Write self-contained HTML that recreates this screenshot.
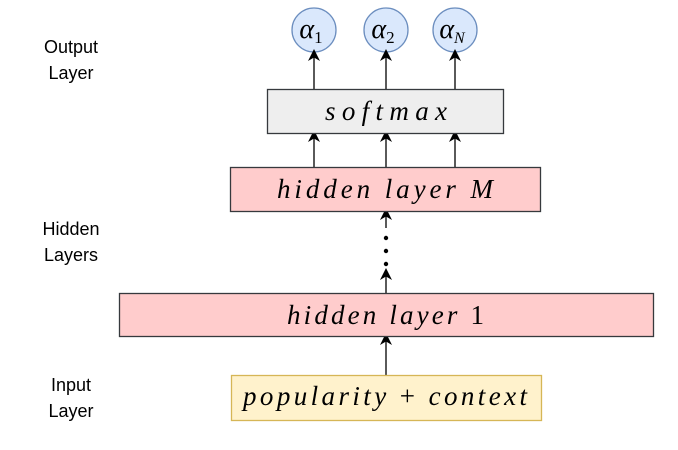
<!DOCTYPE html>
<html><head><meta charset="utf-8"><style>
body{margin:0;background:#fff;}
svg text{font-family:"Liberation Serif",serif;font-style:italic;}
.lbl{font-family:"Liberation Sans",sans-serif;font-style:normal;font-size:18px;fill:#000;}
</style></head><body>
<svg width="678" height="445" viewBox="0 0 678 445" xmlns="http://www.w3.org/2000/svg">
<defs><marker id="a" markerWidth="12" markerHeight="12" refX="6" refY="6" orient="auto" markerUnits="userSpaceOnUse"><path d="M0,0 L12,6 L0,12 L3.5,6 z" fill="#000"/></marker></defs>
<text class="lbl" x="71" y="53" text-anchor="middle">Output</text>
<text class="lbl" x="71" y="79" text-anchor="middle">Layer</text>
<text class="lbl" x="71" y="235" text-anchor="middle">Hidden</text>
<text class="lbl" x="71" y="261" text-anchor="middle">Layers</text>
<text class="lbl" x="71" y="391" text-anchor="middle">Input</text>
<text class="lbl" x="71" y="417" text-anchor="middle">Layer</text>
<g fill="#dae8fc" stroke="#6c8ebf" stroke-width="1.3">
<circle cx="314" cy="30" r="22"/><circle cx="386" cy="30" r="22"/><circle cx="455" cy="30" r="22"/>
</g>
<g font-size="28" fill="#000" text-anchor="middle">
<text x="311" y="38">α<tspan font-size="17" font-style="normal" dy="5">1</tspan></text>
<text x="383" y="38">α<tspan font-size="17" font-style="normal" dy="5">2</tspan></text>
<text x="452" y="38">α<tspan font-size="16" dy="5">N</tspan></text>
</g>
<g stroke="#000" stroke-width="1.3" marker-end="url(#a)">
<line x1="314" y1="89" x2="314" y2="55"/><line x1="386" y1="89" x2="386" y2="55"/><line x1="455" y1="89" x2="455" y2="55"/>
<line x1="314" y1="167" x2="314" y2="136"/><line x1="386" y1="167" x2="386" y2="136"/><line x1="455" y1="167" x2="455" y2="136"/>
<line x1="386" y1="228" x2="386" y2="214"/>
<line x1="386" y1="293" x2="386" y2="274"/>
<line x1="386" y1="375" x2="386" y2="339"/>
</g>
<g fill="#000"><circle cx="386" cy="238" r="2.2"/><circle cx="386" cy="251" r="2.2"/><circle cx="386" cy="264" r="2.2"/></g>
<rect x="267.5" y="89.5" width="236" height="44" fill="#eeeeee" stroke="#36393d" stroke-width="1.3"/>
<rect x="230.5" y="167.5" width="310" height="44" fill="#ffcccc" stroke="#36393d" stroke-width="1.3"/>
<rect x="119.5" y="293.5" width="534" height="43" fill="#ffcccc" stroke="#36393d" stroke-width="1.3"/>
<rect x="231.5" y="375.5" width="310" height="45" fill="#fff2cc" stroke="#d6b656" stroke-width="1.3"/>
<g font-size="27" fill="#000">
<text x="325" y="120" textLength="122" lengthAdjust="spacing">softmax</text>
<text x="277" y="198" textLength="216" lengthAdjust="spacing">hidden layer M</text>
<text x="287" y="324" textLength="197" lengthAdjust="spacing">hidden layer <tspan font-style="normal">1</tspan></text>
<text x="243" y="405" textLength="284" lengthAdjust="spacing">popularity <tspan font-style="normal">+</tspan> context</text>
</g>
</svg>
</body></html>
